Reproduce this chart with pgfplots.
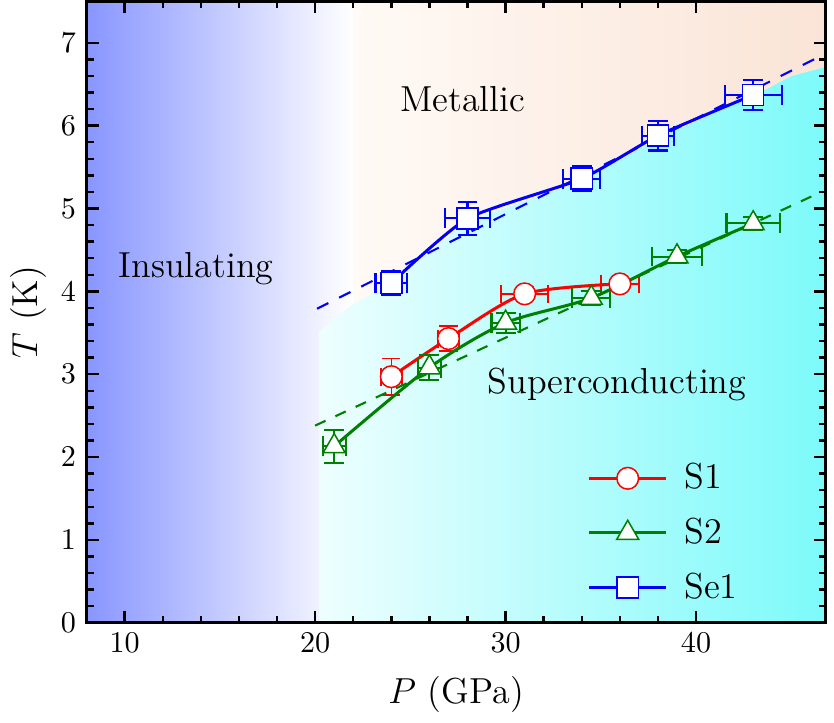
\documentclass[border=0pt]{standalone}
\usepackage{pgfplots}
\pgfplotsset{compat=1.18}
\definecolor{insblue}{RGB}{136,150,255}
\definecolor{scyan}{RGB}{125,250,250}
\definecolor{scyanl}{RGB}{238,254,254}
\definecolor{peach}{RGB}{250,228,214}
\definecolor{peachl}{RGB}{255,250,246}
\definecolor{dgreen}{RGB}{0,128,0}
\begin{document}
\begin{tikzpicture}
\begin{axis}[
  scale only axis, width=245.3pt, height=206.3pt,
  xmin=8, xmax=46.8, ymin=0, ymax=7.5,
  xtick={10,20,30,40}, ytick={0,1,2,3,4,5,6,7},
  minor x tick num=4, minor y tick num=4,
  tick align=inside, major tick length=4pt, minor tick length=2.3pt,
  every tick/.style={black, line width=0.8pt},
  axis line style={line width=0.9pt},
  xlabel={$P$ (GPa)}, ylabel={$T$ (K)},
  ylabel shift=-2pt, xlabel shift=1pt,
  label style={font=\large},
  tick label style={font=\normalsize},
  axis on top,
  legend cell align=left,
  legend style={draw=none, fill=none, at={(rel axis cs:0.665,0.277)}, anchor=north west, row sep=4.2pt, font=\large,
    /tikz/every odd column/.append style={column sep=3.5pt}},
  legend image code/.code={\draw[mark repeat=2, mark phase=2] plot coordinates {(0cm,0cm) (0.45cm,0cm) (0.9cm,0cm)};},
]
% backgrounds
\path[left color=insblue, right color=white] (8,0) rectangle (22,7.5);
\path[left color=scyanl, right color=scyan] (20.2,0) -- (20.2,3.52) -- (22,3.85) -- (24,4.1) -- (28,4.85) -- (34,5.33) -- (38,5.85) -- (43,6.36) -- (45,6.6) -- (46.8,6.71) -- (46.8,0) -- cycle;
\path[left color=peachl, right color=peach] (22,7.5) -- (22,3.85) -- (24,4.1) -- (28,4.85) -- (34,5.33) -- (38,5.85) -- (43,6.36) -- (45,6.6) -- (46.8,6.71) -- (46.8,7.5) -- cycle;

\node[font=\large] at (13.75,4.27) {Insulating};
\node[font=\large] at (27.75,6.32) {Metallic};
\node[font=\large] at (35.85,2.88) {Superconducting};

\addplot[red, line width=1pt, smooth, tension=0.45, mark=*, mark size=3.6pt, mark options={solid, fill=white, draw=red, line width=0.5pt},
  error bars/.cd, x dir=both, x explicit, y dir=both, y explicit,
  error bar style={line width=0.5pt}, error mark options={rotate=90, mark size=3pt, line width=0.5pt}]
  table[x=x, y=y, x error=ex, y error=ey] {
x y ex ey
24 2.97 0.55 0.22
27 3.43 0.55 0.15
31 3.97 1.23 0.08
36 4.09 1.0 0.08
};
\addlegendentry{S1}

\addplot[dgreen, line width=1pt, smooth, tension=0.45, mark=triangle*, mark size=4.2pt, mark options={solid, fill=white, draw=dgreen, line width=0.5pt},
  error bars/.cd, x dir=both, x explicit, y dir=both, y explicit,
  error bar style={line width=0.7pt}, error mark options={rotate=90, mark size=3.3pt, line width=0.7pt}]
  table[x=x, y=y, x error=ex, y error=ey] {
x y ex ey
21 2.13 0.6 0.2
26 3.08 0.6 0.15
30 3.62 0.74 0.12
34.5 3.92 1.0 0.08
39 4.42 1.3 0.08
43 4.82 1.4 0.08
};
\addlegendentry{S2}

\addplot[blue, line width=1pt, smooth, tension=0.35, mark=square*, mark size=3.5pt, mark options={solid, fill=white, draw=blue, line width=0.5pt},
  error bars/.cd, x dir=both, x explicit, y dir=both, y explicit,
  error bar style={line width=0.7pt}, error mark options={rotate=90, mark size=3.3pt, line width=0.7pt}]
  table[x=x, y=y, x error=ex, y error=ey] {
x y ex ey
24 4.1 0.83 0.14
28 4.88 1.2 0.2
34 5.36 0.97 0.15
38 5.88 0.82 0.18
43 6.37 1.5 0.18
};
\addlegendentry{Se1}

\addplot[blue, line width=0.7pt, dash pattern=on 4.2pt off 4pt, forget plot] coordinates {(20.1,3.79) (46.8,6.87)};
\addplot[dgreen, line width=0.7pt, dash pattern=on 3.8pt off 3.6pt, forget plot] coordinates {(20,2.38) (46.2,5.16)};
\end{axis}
\path (current axis.south east) ++(2.8pt,0pt);
\end{tikzpicture}
\end{document}
